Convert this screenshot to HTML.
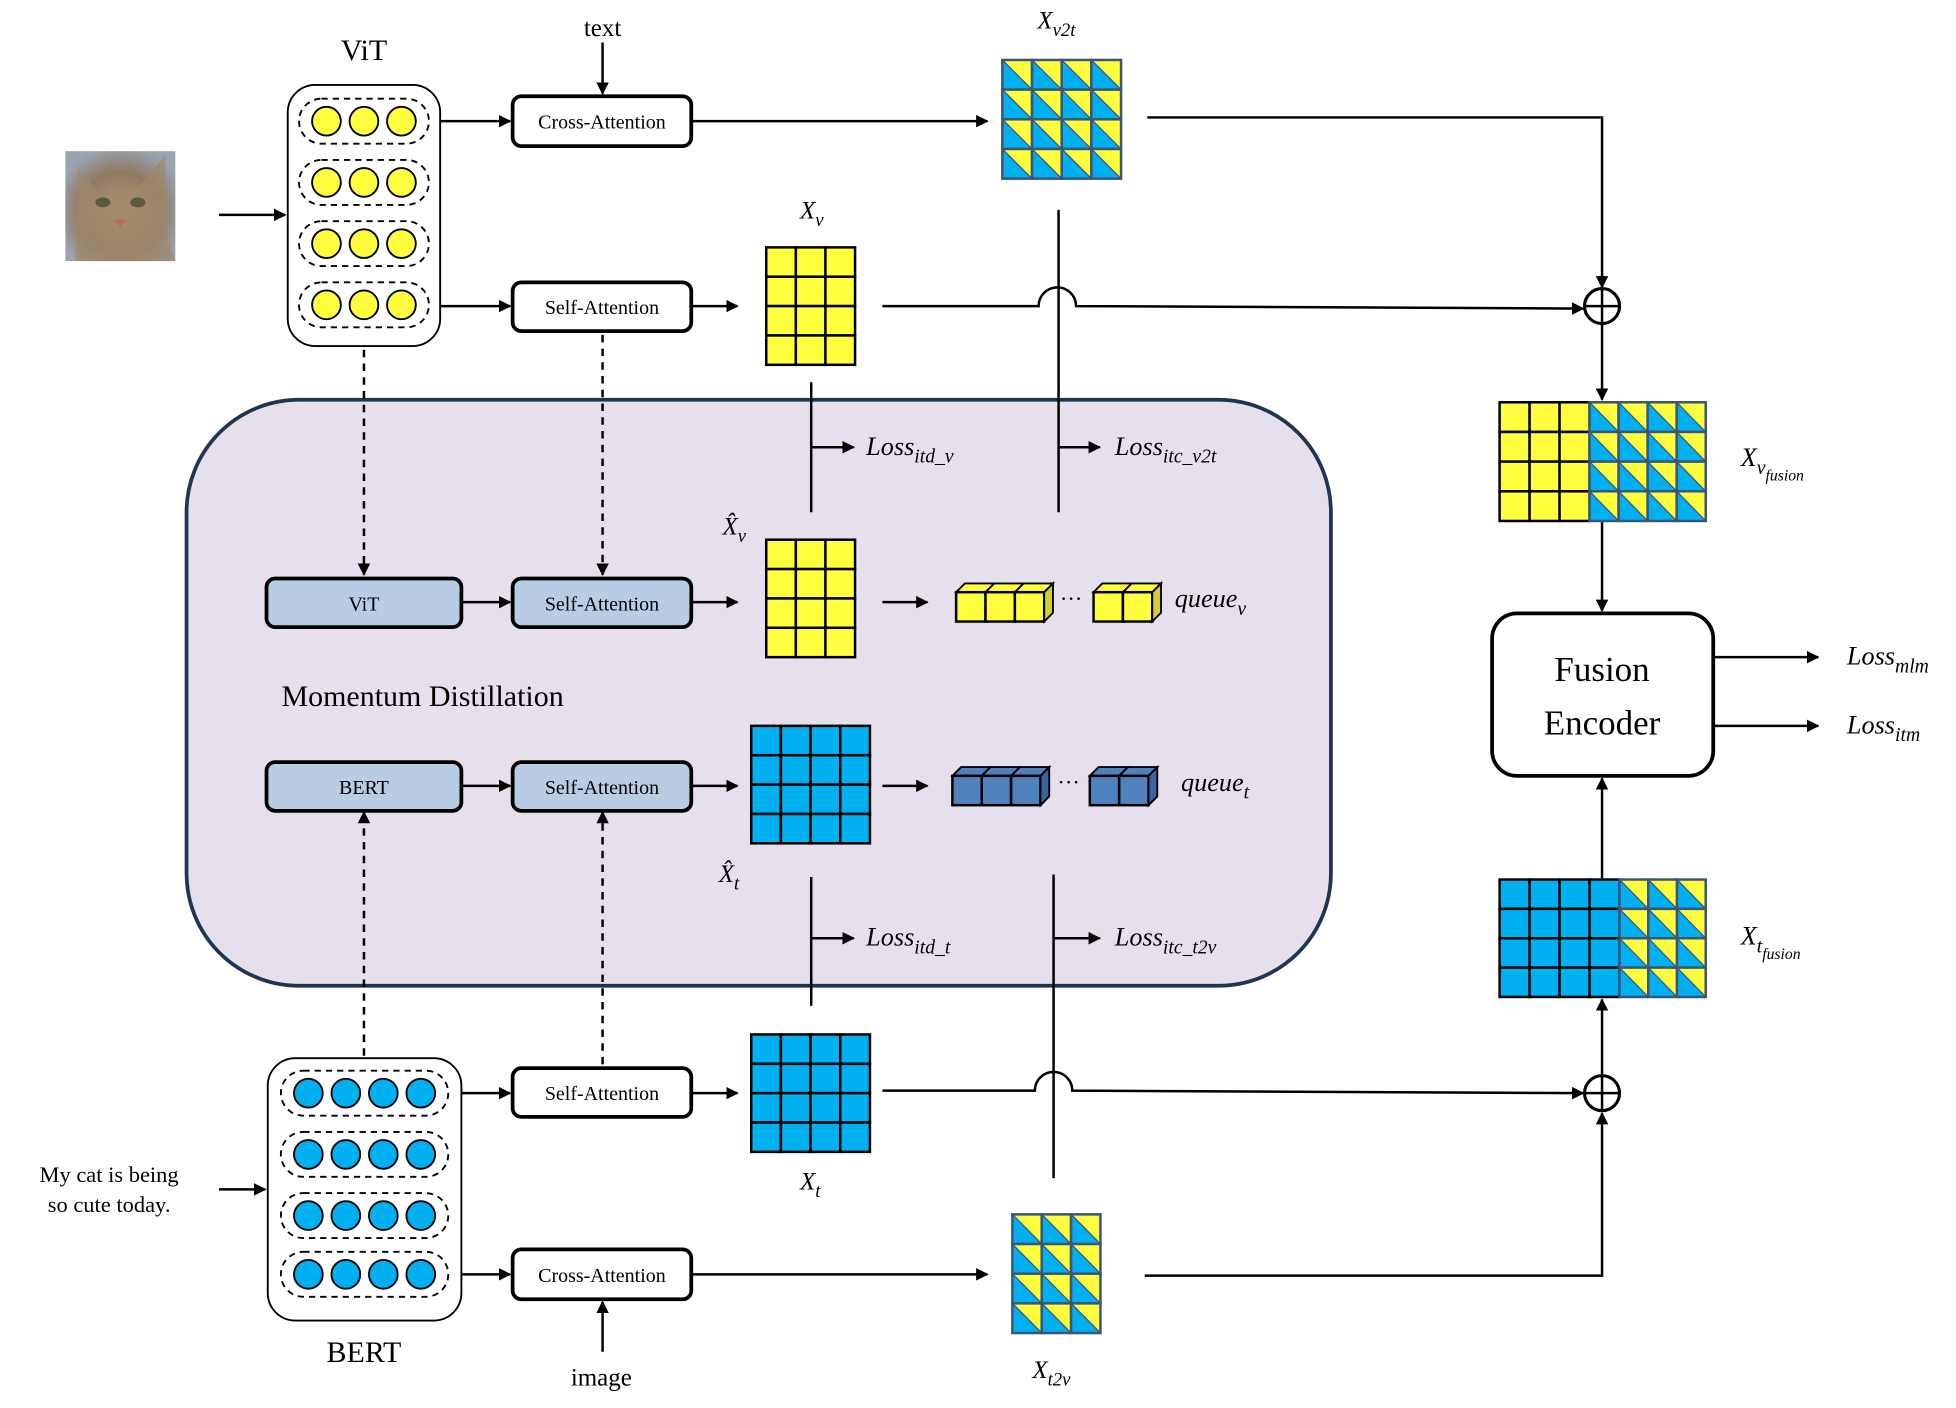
<!DOCTYPE html>
<html><head><meta charset="utf-8"><style>
html,body{margin:0;padding:0;background:#fff;}
svg{display:block;}
svg text{font-family:"Liberation Serif","DejaVu Serif",serif;}
</style></head><body>
<svg id="fig" width="1956" height="1408" viewBox="0 0 1565 1127" xmlns="http://www.w3.org/2000/svg">
<defs>
<marker id="ah" viewBox="0 0 10 10" refX="9" refY="5" markerWidth="10" markerHeight="10" markerUnits="userSpaceOnUse" orient="auto"><path d="M0,0 L10,5 L0,10 z" fill="#000"/></marker>
<radialGradient id="catg" cx="50%" cy="55%" r="60%"><stop offset="0" stop-color="#b79a78"/><stop offset="0.6" stop-color="#8e7a62"/><stop offset="1" stop-color="#9aa3b0"/></radialGradient>
</defs>
<rect x="149" y="320" width="916" height="469" rx="90" fill="#e6e0ec" stroke="#1f3553" stroke-width="3"/>
<g id="g"></g>
</svg>
<script>
const svg=document.getElementById('g');
const NS='http://www.w3.org/2000/svg';
const FONT='"Liberation Serif", "DejaVu Serif", serif';
function el(tag,attrs,name,parent){const e=document.createElementNS(NS,tag);for(const k in attrs)e.setAttribute(k,attrs[k]);


(parent||svg).appendChild(e);return e;}
function line(x1,y1,x2,y2,name,arrow,dash){const a={x1,y1,x2,y2,stroke:'#000','stroke-width':2};if(arrow)a['marker-end']='url(#ah)';if(dash)a['stroke-dasharray']='6,5';return el('line',a,name);}
function poly(pts,name,arrow){const a={points:pts,fill:'none',stroke:'#000','stroke-width':2};if(arrow)a['marker-end']='url(#ah)';return el('polyline',a,name);}
function txt(x,y,s,size,name,anchor){const t=el('text',{x,y,'font-size':size,'text-anchor':anchor||'middle','font-family':FONT},name);t.textContent=s;return t;}
function mtxt(x,y,main,sub,size,name,extra){const t=el('text',{x,y,'font-size':size,'text-anchor':'start','font-style':'italic','font-family':FONT},name);
 const a=document.createElementNS(NS,'tspan');a.textContent=main;t.appendChild(a);
 const b=document.createElementNS(NS,'tspan');b.setAttribute('dy',size*0.3);b.setAttribute('font-size',size*0.75);b.textContent=sub;t.appendChild(b);
 if(extra){const c=document.createElementNS(NS,'tspan');c.setAttribute('dy',size*0.25);c.setAttribute('font-size',size*0.6);c.textContent=extra;t.appendChild(c);}
 return t;}
function box(x,y,w,h,label,name,fill){el('rect',{x,y,width:w,height:h,rx:7,fill:fill||'#fff',stroke:'#000','stroke-width':3},name);txt(x+w/2,y+h/2+6,label,16,name+'-label');}
const Y='#ffff40',B='#00b0f0';
function grid(x,y,cols,rows,cw,ch,kind,name){
 const g=el('g',{},name);
 for(let c=0;c<cols;c++)for(let r=0;r<rows;r++){const k=kind[c],cx=x+c*cw,cy=y+r*ch;
  if(k==='t'){el('rect',{x:cx,y:cy,width:cw,height:ch,fill:Y},'cell-yellow-half',g);
   el('polygon',{points:`${cx},${cy} ${cx+cw},${cy+ch} ${cx},${cy+ch}`,fill:B,stroke:'#3b5578','stroke-width':1},'cell-blue-half',g);
   el('rect',{x:cx,y:cy,width:cw,height:ch,fill:'none',stroke:'#3b5578','stroke-width':2},'cell-border',g);}
  else el('rect',{x:cx,y:cy,width:cw,height:ch,fill:k==='y'?Y:B,stroke:'#000','stroke-width':2},'cell',g);}
 return g;}
function cubes(x,y,n,s,col,side,name){const g=el('g',{},name);const d=7;
 for(let i=0;i<n;i++){const cx=x+i*s;
  el('polygon',{points:`${cx},${y} ${cx+d},${y-d} ${cx+s+d},${y-d} ${cx+s},${y}`,fill:col,stroke:'#000','stroke-width':1.5},'cube-top',g);
  el('rect',{x:cx,y,width:s,height:s,fill:col,stroke:'#000','stroke-width':2},'cube-front',g);}
 const ex=x+n*s;el('polygon',{points:`${ex},${y} ${ex+d},${y-d} ${ex+d},${y+s-d} ${ex},${y+s}`,fill:side,stroke:'#000','stroke-width':1.5},'cube-side',g);return g;}
function encoder(x,y,w,h,rows,ncirc,col,name){el('rect',{x,y,width:w,height:h,rx:22,fill:'#fff',stroke:'#000','stroke-width':1.5},name);
 const pw=ncirc*30+14;rows.forEach(ry=>{el('rect',{x:x+w/2-pw/2,y:ry-18,width:pw,height:36,rx:18,fill:'none',stroke:'#000','stroke-width':1.5,'stroke-dasharray':'5,4'},name+'-token-group');
 for(let i=0;i<ncirc;i++)el('circle',{cx:x+w/2-(ncirc-1)*15+i*30,cy:ry,r:11.5,fill:col,stroke:'#000','stroke-width':1.5},name+'-token');});}
function hop(x1,y,cx,x2,y2,name){el('path',{d:`M${x1},${y} L${cx-15},${y} A15,15 0 0 1 ${cx+15},${y} L${x2},${y2}`,fill:'none',stroke:'#000','stroke-width':2,'marker-end':'url(#ah)'},name);}
function plus(cx,cy,name){el('circle',{cx,cy,r:14,fill:'#fff',stroke:'#000','stroke-width':2.5},name);line(cx-14,cy,cx+14,cy,name+'-h');line(cx,cy-14,cx,cy+14,name+'-v');}

// cat image
el('rect',{x:52,y:121,width:88,height:88,fill:'url(#catg)'},'cat-image');
el('polygon',{points:'60,209 62,135 80,155 110,150 132,124 132,185 140,209',fill:'#a08868',opacity:0.7},'cat-head');
el('ellipse',{cx:82,cy:162,rx:6,ry:4,fill:'#5b5a40'},'cat-eye');el('ellipse',{cx:110,cy:162,rx:6,ry:4,fill:'#5b5a40'},'cat-eye');
el('path',{d:'M91,176 L101,176 L96,182 z',fill:'#b4705a'},'cat-nose');
line(175,172,228,172,'image-input-arrow',true);

// top ViT
txt(291,48,'ViT',24,'vit-title');
encoder(230,68,122,209,[97,146,195,244],3,Y,'vit-encoder');
txt(482,29,'text',20,'text-input-label');line(482,34,482,75,'text-arrow',true);
line(352,97,408,97,'vit-to-cross-arrow',true);
box(410,77,143,40,'Cross-Attention','cross-attention-top');
line(553,97,790,97,'cross-to-xv2t-arrow',true);
grid(802,48,4,4,23.75,23.75,['t','t','t','t'],'xv2t-grid');
mtxt(830,23,'X','v2t',20,'xv2t-label');
poly('918,94 1282,94 1282,230','xv2t-to-plus-arrow',true);
line(352,245,408,245,'vit-to-self-arrow',true);
box(410,226,143,39,'Self-Attention','self-attention-top');
line(553,245,590,245,'self-to-xv-arrow',true);
grid(613,198,3,4,23.7,23.5,['y','y','y'],'xv-grid');
mtxt(640,175,'X','v',20,'xv-label');
hop(706,245,846,1267,247,'xv-to-plus-arrow');
plus(1282,245,'plus-top');
line(847,168,847,410,'itc-v2t-line');
line(847,358,880,358,'itc-v2t-arrow',true);mtxt(892,364,'Loss','itc_v2t',21,'loss-itc-v2t');
line(649,306,649,410,'itd-v-line');line(649,358,683,358,'itd-v-arrow',true);mtxt(693,364,'Loss','itd_v',21,'loss-itd-v');

// momentum
line(291,280,291,460,'vit-momentum-dashed',true,true);line(482,268,482,460,'self-momentum-dashed',true,true);
box(213,463,156,39,'ViT','vit-momentum','#b8cce4');line(369,482,408,482,'vitm-arrow',true);
box(410,463,143,39,'Self-Attention','self-attention-momentum-v','#b8cce4');line(553,482,590,482,'sam-arrow',true);
grid(613,432,3,4,23.7,23.5,['y','y','y'],'xv-hat-grid');
mtxt(578,428,'X̂','v',20,'xv-hat-label');
line(706,482,742,482,'to-queue-v-arrow',true);
cubes(765,474,3,23.5,Y,'#d4cf2e','queue-v-cubes-a');txt(857,485,'···',18,'queue-v-dots');cubes(875,474,2,23.5,Y,'#d4cf2e','queue-v-cubes-b');
mtxt(940,486,'queue','v',21,'queue-v-label');
txt(225,565,'Momentum Distillation',24,'momentum-distillation-title','start');
box(213,610,156,39,'BERT','bert-momentum','#b8cce4');line(369,629,408,629,'bertm-arrow',true);
box(410,610,143,39,'Self-Attention','self-attention-momentum-t','#b8cce4');line(553,629,590,629,'samt-arrow',true);
grid(601,581,4,4,23.75,23.5,['b','b','b','b'],'xt-hat-grid');
mtxt(575,706,'X̂','t',20,'xt-hat-label');
line(706,629,742,629,'to-queue-t-arrow',true);
cubes(762,621,3,23.5,'#4f81bd','#3a64a0','queue-t-cubes-a');txt(855,632,'···',18,'queue-t-dots');cubes(872,621,2,23.5,'#4f81bd','#3a64a0','queue-t-cubes-b');
mtxt(945,633,'queue','t',21,'queue-t-label');
line(649,702,649,805,'itd-t-line');line(649,751,683,751,'itd-t-arrow',true);mtxt(693,757,'Loss','itd_t',21,'loss-itd-t');
line(843,700,843,943,'itc-t2v-line');line(843,751,880,751,'itc-t2v-arrow',true);mtxt(892,757,'Loss','itc_t2v',21,'loss-itc-t2v');
line(291,845,291,650,'bert-momentum-dashed',true,true);line(482,852,482,650,'self-t-momentum-dashed',true,true);

// bottom BERT
encoder(214,847,155,210,[875,924,973,1020],4,B,'bert-encoder');
txt(291,1090,'BERT',24,'bert-title');
txt(87,946,'My cat is being',18,'text-input-line1');txt(87,970,'so cute today.',18,'text-input-line2');
line(175,952,212,952,'text-input-arrow',true);
line(369,875,408,875,'bert-to-self-arrow',true);
box(410,855,143,39,'Self-Attention','self-attention-bottom');line(553,875,590,875,'self-to-xt-arrow',true);
grid(601,828,4,4,23.75,23.5,['b','b','b','b'],'xt-grid');
mtxt(640,952,'X','t',20,'xt-label');
hop(706,873,843,1267,875,'xt-to-plus-arrow');
plus(1282,875,'plus-bottom');
line(369,1020,408,1020,'bert-to-cross-arrow',true);
box(410,1000,143,40,'Cross-Attention','cross-attention-bottom');
txt(481,1109,'image',20,'image-input-label');line(482,1082,482,1042,'image-arrow',true);
line(553,1020,790,1020,'cross-to-xt2v-arrow',true);
grid(810,972,3,4,23.5,23.75,['t','t','t'],'xt2v-grid');
mtxt(826,1103,'X','t2v',20,'xt2v-label');
poly('916,1021 1282,1021 1282,891','xt2v-to-plus-arrow',true);

// fusion
line(1282,259,1282,320,'plus-to-xvfusion-arrow',true);
grid(1200,322,3,4,24,23.75,['y','y','y'],'xv-fusion-yellow');grid(1272,322,4,4,23.25,23.75,['t','t','t','t'],'xv-fusion-tri');
mtxt(1393,373,'X','v',21,'xv-fusion-label','fusion');
line(1282,418,1282,489,'xvfusion-to-encoder-arrow',true);
el('rect',{x:1194,y:491,width:177,height:130,rx:20,fill:'#fff',stroke:'#000','stroke-width':3},'fusion-encoder');
txt(1282,545,'Fusion',28,'fusion-encoder-label-1');txt(1282,588,'Encoder',28,'fusion-encoder-label-2');
line(1371,526,1455,526,'mlm-arrow',true);mtxt(1478,532,'Loss','mlm',21,'loss-mlm');
line(1371,581,1455,581,'itm-arrow',true);mtxt(1478,587,'Loss','itm',21,'loss-itm');
line(1282,703,1282,623,'xtfusion-to-encoder-arrow',true);
grid(1200,704,4,4,24,23.5,['b','b','b','b'],'xt-fusion-blue');grid(1296,704,3,4,23,23.5,['t','t','t'],'xt-fusion-tri');
mtxt(1393,756,'X','t',21,'xt-fusion-label','fusion');
line(1282,861,1282,800,'plus-to-xtfusion-arrow',true);
</script>
</body></html>
